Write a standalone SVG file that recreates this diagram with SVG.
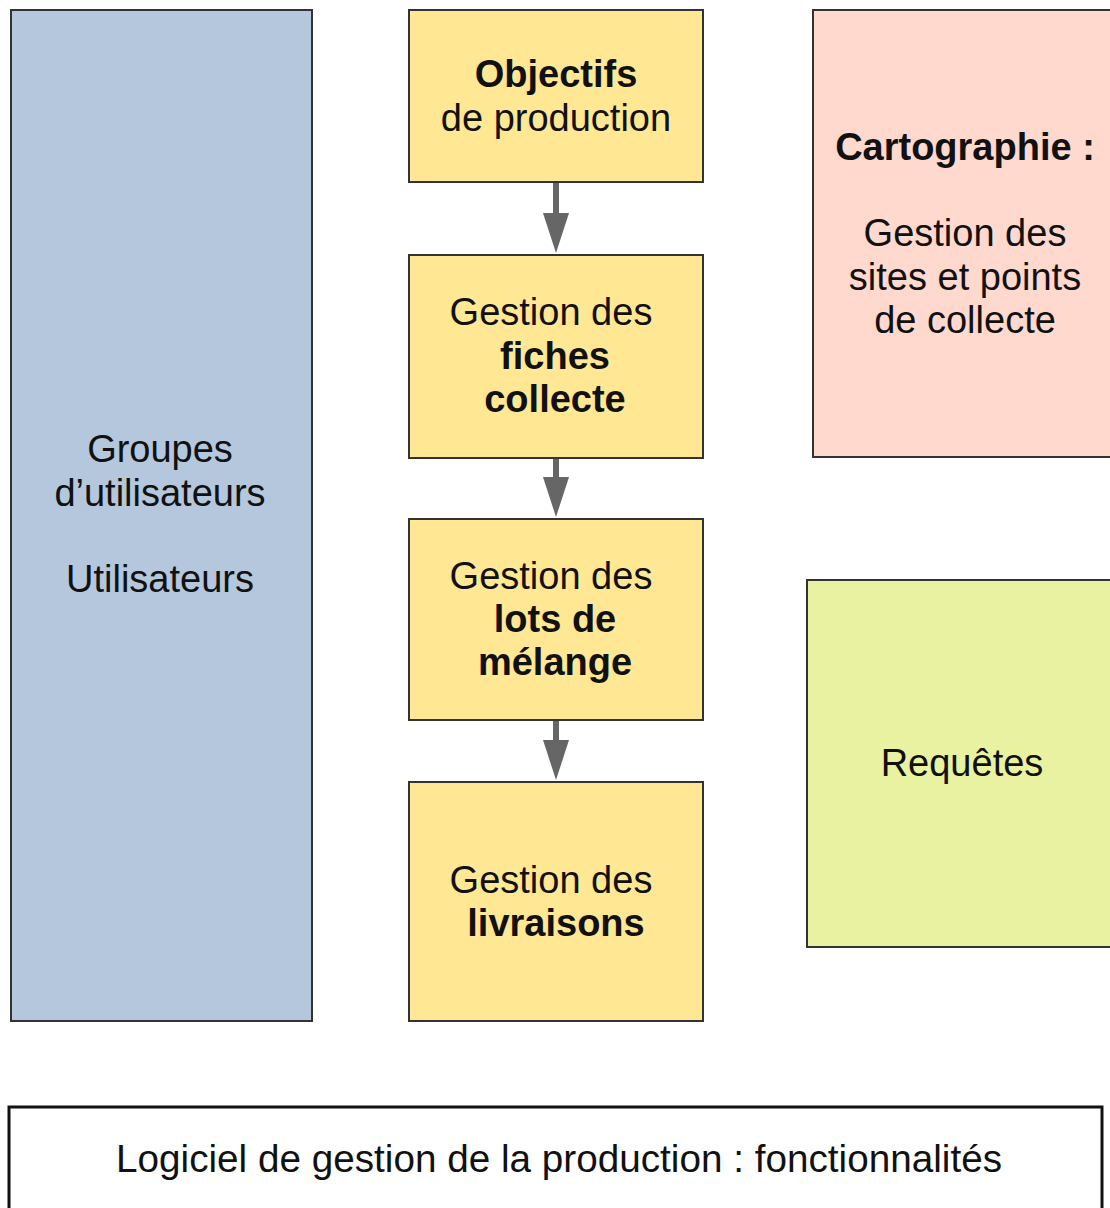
<svg xmlns="http://www.w3.org/2000/svg" width="1110" height="1208" viewBox="0 0 1110 1208">
<style>
text{font-family:"Liberation Sans",Arial,sans-serif;font-size:38px;fill:#111;text-anchor:middle}
.b{font-weight:bold}
.box{stroke:#333;stroke-width:2}
.y{fill:#ffe794}
</style>
<defs>
<marker id="ah" markerWidth="40" markerHeight="26" refX="20" refY="13" orient="auto" markerUnits="userSpaceOnUse" viewBox="0 0 40 26">
<path d="M0,0 L40,13 L0,26 Z" fill="#666"/>
</marker>
</defs>
<rect width="1110" height="1208" fill="#fff"/>
<g id="groupes">
<rect class="box" x="11" y="10" width="301" height="1011" fill="#b4c7dc"/>
<text x="160" y="462">Groupes</text>
<text x="160" y="506">d’utilisateurs</text>
<text x="160" y="592">Utilisateurs</text>
</g>
<g id="objectifs">
<rect class="box y" x="409" y="10" width="294" height="172"/>
<text class="b" x="556" y="87">Objectifs</text>
<text x="556" y="131">de production</text>
</g>
<g id="fiches">
<rect class="box y" x="409" y="255" width="294" height="203"/>
<text x="551" y="325">Gestion des</text>
<text class="b" x="555" y="369">fiches</text>
<text class="b" x="555" y="412">collecte</text>
</g>
<g id="lots">
<rect class="box y" x="409" y="519" width="294" height="201"/>
<text x="551" y="589">Gestion des</text>
<text class="b" x="555" y="632">lots de</text>
<text class="b" x="555" y="675">mélange</text>
</g>
<g id="livraisons">
<rect class="box y" x="409" y="782" width="294" height="239"/>
<text x="551" y="893">Gestion des</text>
<text class="b" x="556" y="936">livraisons</text>
</g>
<g id="cartographie">
<rect class="box" x="813" y="10" width="310" height="447" fill="#ffd8ce"/>
<text class="b" x="965" y="160">Cartographie :</text>
<text x="965" y="246">Gestion des</text>
<text x="965" y="290">sites et points</text>
<text x="965" y="333">de collecte</text>
</g>
<g id="requetes">
<rect class="box" x="807" y="580" width="316" height="367" fill="#e8f2a1"/>
<text x="962" y="776">Requêtes</text>
</g>
<g id="titre">
<rect x="9" y="1107" width="1093" height="120" fill="#fff" stroke="#111" stroke-width="3"/>
<text x="559" y="1172" textLength="886" lengthAdjust="spacingAndGlyphs">Logiciel de gestion de la production : fonctionnalités</text>
</g>
<g id="connectors" stroke="#666" stroke-width="6" fill="none">
<line x1="556" y1="183" x2="556" y2="233" marker-end="url(#ah)"/>
<line x1="556" y1="459" x2="556" y2="497" marker-end="url(#ah)"/>
<line x1="556" y1="721" x2="556" y2="760" marker-end="url(#ah)"/>
</g>
</svg>
